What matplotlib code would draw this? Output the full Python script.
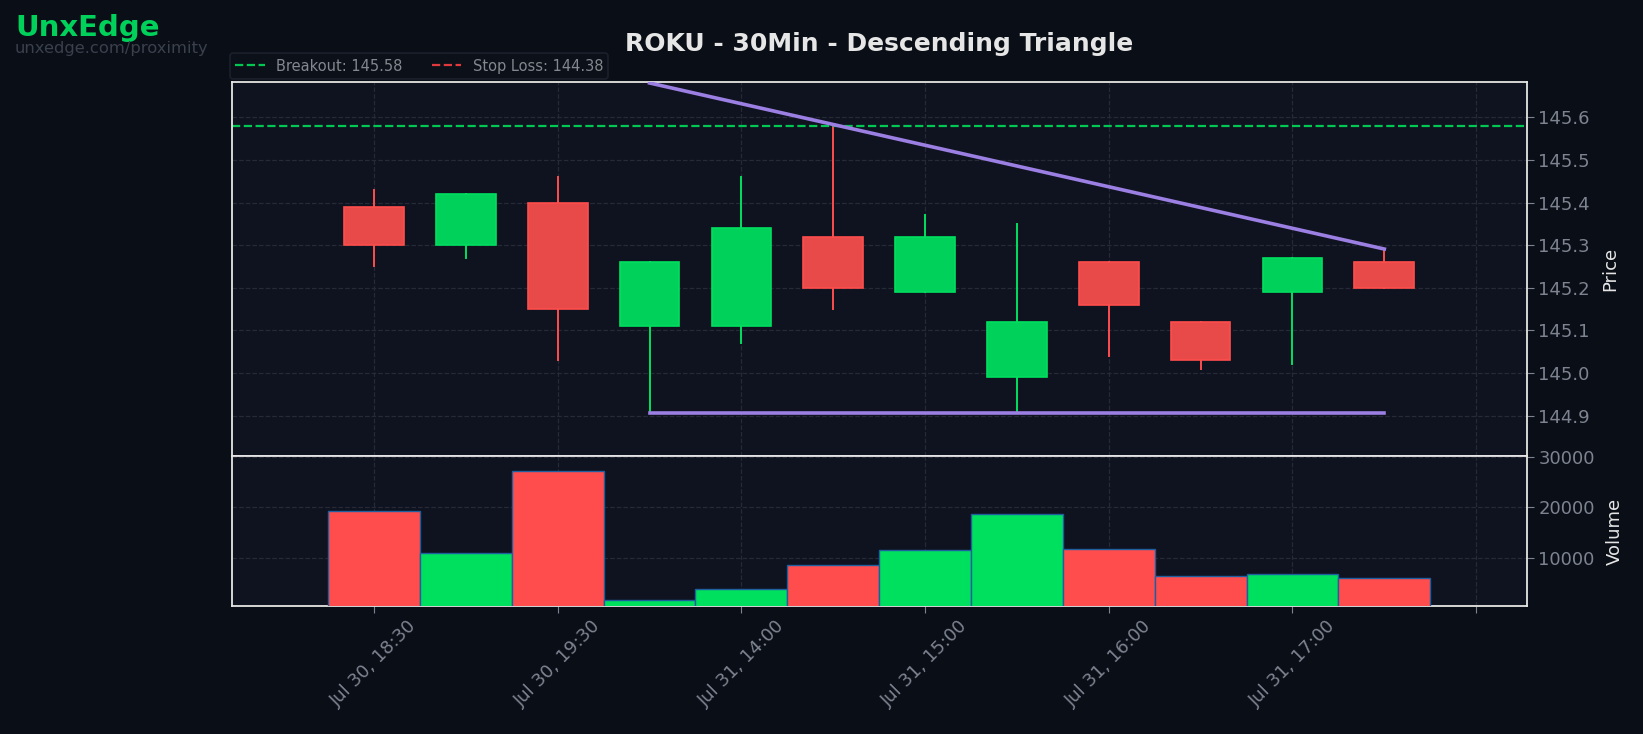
import matplotlib
matplotlib.use("Agg")
import matplotlib.pyplot as plt
from matplotlib.patches import Rectangle

# candle data (30 min bars)
times = ["Jul 30, 18:30", "Jul 30, 19:00", "Jul 30, 19:30", "Jul 31, 13:30",
         "Jul 31, 14:00", "Jul 31, 14:30", "Jul 31, 15:00", "Jul 31, 15:30",
         "Jul 31, 16:00", "Jul 31, 16:30", "Jul 31, 17:00", "Jul 31, 17:30"]
opens = [145.39, 145.30, 145.40, 145.11, 145.11, 145.32, 145.19, 144.99, 145.26, 145.12, 145.19, 145.26]
highs = [145.43, 145.42, 145.46, 145.26, 145.46, 145.58, 145.37, 145.35, 145.26, 145.12, 145.27, 145.29]
lows = [145.25, 145.27, 145.03, 144.91, 145.07, 145.15, 145.19, 144.91, 145.04, 145.01, 145.02, 145.20]
closes = [145.30, 145.42, 145.15, 145.26, 145.34, 145.20, 145.32, 145.12, 145.16, 145.03, 145.27, 145.20]
volumes = [19350, 11060, 27200, 1700, 3860, 8700, 11510, 18760, 11700, 6410, 6940, 6020]

# pattern lines
res_x = [3, 11]
res_y = [145.681, 145.291]
sup_x = [3, 11]
sup_y = [144.905, 144.905]
breakout = 145.58
stop_loss = 144.38

BG = "#0a0e16"
AX_BG = "#0f1320"
GREEN = "#00e05f"
RED = "#ff4d4d"
TXT = "#7d8390"

fig = plt.figure(figsize=(16.43, 7.34), dpi=100, facecolor=BG)
gs = fig.add_gridspec(2, 1, height_ratios=[2.51, 1], hspace=0,
                      left=0.141, right=0.9292, top=0.8887, bottom=0.1748)
ax = fig.add_subplot(gs[0])
axv = fig.add_subplot(gs[1], sharex=ax)

for a in (ax, axv):
    a.set_facecolor(AX_BG)
    for s in a.spines.values():
        s.set_color("#e6e6e6")
        s.set_linewidth(1.3)
    a.yaxis.tick_right()
    a.yaxis.set_label_position("right")
    a.tick_params(colors=TXT, labelsize=13, length=5)
    a.grid(True, color="#252a36", linestyle="--", linewidth=0.9)
    a.set_axisbelow(True)

# candles
w = 0.65
for i in range(len(opens)):
    up = closes[i] >= opens[i]
    col = GREEN if up else RED
    face = "#00d15a" if up else "#e84a4a"
    ax.plot([i, i], [lows[i], highs[i]], color=col, linewidth=1.4, zorder=2)
    lo = min(opens[i], closes[i])
    ax.add_patch(Rectangle((i - w / 2, lo), w, abs(closes[i] - opens[i]),
                           facecolor=face, edgecolor=col, linewidth=1.2, zorder=3))

ax.plot(res_x, res_y, color="#9b7fe3", linewidth=2.6, zorder=4)
ax.plot(sup_x, sup_y, color="#9b7fe3", linewidth=2.6, zorder=4)
ax.axhline(breakout, color="#00c853", linestyle="--", linewidth=1.6,
           label=f"Breakout: {breakout:.2f}")
ax.axhline(stop_loss, color="#e0393e", linestyle="--", linewidth=1.6,
           label=f"Stop Loss: {stop_loss:.2f}")

ax.set_ylim(144.804, 145.684)
ax.set_xlim(-1.55, 12.55)
ax.set_yticks([144.9, 145.0, 145.1, 145.2, 145.3, 145.4, 145.5, 145.6])
ax.set_ylabel("Price", color="#e6e6e6", fontsize=13, labelpad=8)
ax.tick_params(axis="x", labelbottom=False, length=0)

leg = ax.legend(loc="lower left", bbox_to_anchor=(-0.001, 1.008), borderaxespad=0,
                ncol=2, fontsize=10.5, frameon=True, facecolor="#0d1119",
                edgecolor="#1f2430", labelcolor="#83888f", borderpad=0.35,
                columnspacing=2.0, handlelength=2.0)
leg.get_frame().set_linewidth(1.2)

ax.set_title("ROKU - 30Min - Descending Triangle", color="#e6e6e6",
             fontsize=18, fontweight="bold", pad=22)

# volume
vcols = [GREEN if c >= o else RED for o, c in zip(opens, closes)]
axv.bar(range(len(volumes)), volumes, width=1.0, color=vcols,
        edgecolor="#1f5f9f", linewidth=1.0, zorder=3)
axv.set_ylim(600, 30040)
axv.set_yticks([10000, 20000, 30000])
axv.set_ylabel("Volume", color="#e6e6e6", fontsize=13, labelpad=8)

tick_pos = list(range(0, 13, 2))
tick_lab = [times[i] if i < len(times) else "" for i in tick_pos]
axv.set_xticks(tick_pos)
axv.set_xticklabels(tick_lab, rotation=45, ha="center")

fig.text(0.0094, 0.951, "UnxEdge", color="#00d15a", fontsize=21,
         fontweight="bold", va="baseline", ha="left")
fig.text(0.0088, 0.928, "unxedge.com/proximity", color="#3a404c",
         fontsize=11.8, va="baseline", ha="left")

fig.savefig("out.png", facecolor=BG)
